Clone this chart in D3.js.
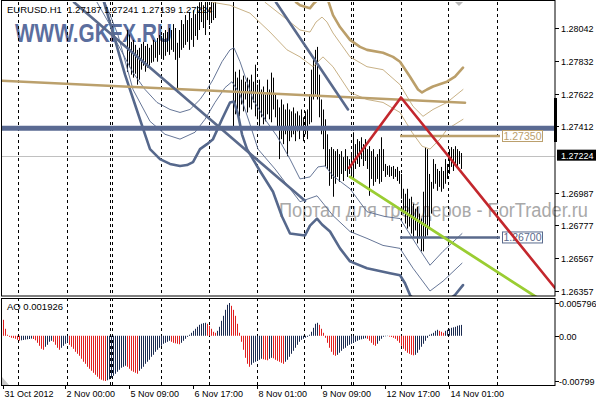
<!DOCTYPE html>
<html><head><meta charset="utf-8">
<script src="https://cdn.jsdelivr.net/npm/d3@7"></script>
<style>body{margin:0;background:#fff}svg{display:block}text{font-family:"Liberation Sans",Arial,sans-serif}</style>
</head><body><svg id="c" width="596" height="400"></svg>
<script>
// ---------------- DATA ----------------
const symbolName = "EURUSD.H1";
const headerOHLC = ["1.27187", "1.27241", "1.27139", "1.27224"];
const lastPrice = 1.27224;
const priceTicks = [1.28042, 1.27832, 1.27622, 1.27412, 1.26987, 1.26777, 1.26567, 1.26357];
const aoTicks = [0.005796, 0, -0.00799];
const aoTickLabels = ["0.005796", "0.00", "-0.00799"];
const aoLabel = "AO 0.001926";
const timeLabelIdx = [0, 31, 63, 95, 127, 159, 191, 223];
const timeLabelText = ["31 Oct 2012", "2 Nov 00:00", "5 Nov 09:00", "6 Nov 17:00", "8 Nov 01:00", "9 Nov 09:00", "12 Nov 17:00", "14 Nov 01:00"];
const separatorIdx = [7.5, 32, 53.5, 54.5, 79, 103, 127, 150.5, 174, 175, 199, 222.5, 247];

// hourly bars, first index = barStart
const barStart = 62;
const highs = [1.2803,1.2800,1.27953,1.27966,1.27934,1.27902,1.27915,1.2794,1.27953,1.27927,1.2794,1.27915,1.27934,1.27966,1.27953,1.27978,1.27997,1.27991,1.2801,1.28029,1.28016,1.28042,1.28029,1.28067,1.28042,1.27947,1.28029,1.28093,1.28067,1.28125,1.28093,1.28144,1.28106,1.28156,1.28131,1.28182,1.28207,1.28233,1.28188,1.28252,1.2822,1.28175,1.28245,1.28207,1.28258,1.28315,1.2834,1.2836,1.2838,1.2837,1.2835,1.2834,1.2833,1.28252,1.27762,1.27724,1.27775,1.27711,1.27737,1.27698,1.27724,1.27711,1.27743,1.27698,1.27807,1.27679,1.27711,1.27648,1.27667,1.27616,1.27711,1.27648,1.27756,1.27724,1.27616,1.27584,1.27533,1.27584,1.27552,1.2752,1.27559,1.2752,1.27508,1.27533,1.27495,1.27508,1.27482,1.2752,1.2747,1.27508,1.2752,1.27616,1.27775,1.27857,1.27902,1.27921,1.27743,1.27584,1.2752,1.27457,1.27361,1.27266,1.27279,1.27266,1.27253,1.27266,1.27234,1.27253,1.27215,1.27266,1.27221,1.27202,1.27234,1.27374,1.27298,1.2733,1.27317,1.27342,1.27298,1.2733,1.27266,1.27285,1.27253,1.27266,1.27215,1.27234,1.27266,1.27342,1.27266,1.27171,1.27158,1.27162,1.27152,1.27158,1.27139,1.27152,1.27126,1.27107,1.27012,1.2698,1.27012,1.26948,1.26961,1.26916,1.26884,1.26897,1.26853,1.26821,1.26993,1.27279,1.27266,1.27107,1.27056,1.27202,1.27171,1.27139,1.27126,1.27152,1.27126,1.27202,1.27171,1.27266,1.27279,1.27266,1.27285,1.27266,1.27253,1.27241];
const lows = [1.2776,1.2779,1.27743,1.27724,1.27749,1.27679,1.27711,1.27775,1.278,1.27762,1.27788,1.278,1.27819,1.27826,1.27851,1.27826,1.2787,1.27851,1.27838,1.27864,1.27889,1.2787,1.27902,1.27889,1.27838,1.27629,1.27851,1.27902,1.27915,1.27934,1.27953,1.27902,1.27966,1.27921,1.27991,1.27966,1.28029,1.2808,1.28042,1.27997,1.28093,1.28061,1.28074,1.28093,1.28106,1.28233,1.2826,1.2827,1.2828,1.2826,1.2825,1.2824,1.2824,1.27393,1.27489,1.2752,1.27476,1.27552,1.27508,1.27584,1.27501,1.27533,1.2752,1.27565,1.27476,1.27457,1.27412,1.2747,1.27425,1.27444,1.27489,1.27457,1.27438,1.2752,1.2747,1.27393,1.27202,1.2733,1.27298,1.27361,1.27221,1.27317,1.27342,1.27361,1.27317,1.2738,1.2733,1.27393,1.27317,1.27361,1.2733,1.27425,1.27438,1.27584,1.27616,1.27584,1.2747,1.27361,1.27266,1.27158,1.27139,1.27031,1.27075,1.26961,1.27044,1.27088,1.27056,1.27107,1.27062,1.27126,1.27088,1.27107,1.27088,1.27088,1.27139,1.27171,1.27152,1.27202,1.27158,1.2719,1.27139,1.26967,1.27075,1.27031,1.27056,1.27075,1.27044,1.27056,1.27126,1.27088,1.27101,1.27088,1.27094,1.27075,1.27088,1.27062,1.27044,1.26948,1.26853,1.26789,1.26757,1.2677,1.26725,1.26706,1.26745,1.26662,1.26694,1.26611,1.26611,1.26694,1.26713,1.26757,1.26853,1.27012,1.27044,1.26999,1.27024,1.26993,1.27012,1.27044,1.27075,1.27107,1.27152,1.27126,1.27171,1.27139,1.27171,1.27139];

// Awesome Oscillator, one value per bar (index 0..229)
const aoValues = [0.00283,0.00124,0.00018,-0.00018,-0.00035,-0.00041,-0.00053,-0.00071,-0.00088,-0.0008,-0.00074,-0.00067,-0.00062,-0.00057,-0.0005,-0.00057,-0.0008,-0.00124,-0.00177,-0.0023,-0.00247,-0.00194,-0.00159,-0.00106,-0.00088,-0.00106,-0.00159,-0.00212,-0.00247,-0.00212,-0.00177,-0.00141,-0.00124,-0.00159,-0.00194,-0.0023,-0.00283,-0.00318,-0.00353,-0.00406,-0.00459,-0.00495,-0.00548,-0.00583,-0.00618,-0.00654,-0.00689,-0.00724,-0.0076,-0.00777,-0.00792,-0.00799,-0.00786,-0.00769,-0.00742,-0.00707,-0.00671,-0.00636,-0.00601,-0.00565,-0.00548,-0.0053,-0.00548,-0.00583,-0.00618,-0.00636,-0.00654,-0.00671,-0.00618,-0.00583,-0.00548,-0.00495,-0.00459,-0.00424,-0.00371,-0.00336,-0.00283,-0.00247,-0.00212,-0.00177,-0.00141,-0.00124,-0.00106,-0.00088,-0.00106,-0.00124,-0.00133,-0.00141,-0.0015,-0.00124,-0.00088,-0.00053,-0.00018,0.00018,0.00053,0.00088,0.00124,0.00159,0.00194,0.00212,0.00224,0.0023,0.00212,0.00177,0.00124,0.00071,0.00053,0.00088,0.00159,0.00265,0.00353,0.00459,0.00548,0.005796,0.0053,0.00459,0.00353,0.00212,0.00053,-0.00106,-0.00247,-0.00389,-0.00495,-0.00548,-0.00512,-0.00477,-0.00459,-0.00442,-0.00424,-0.00406,-0.00415,-0.00424,-0.00433,-0.00406,-0.00389,-0.00398,-0.00424,-0.00442,-0.00459,-0.00477,-0.00495,-0.00459,-0.00424,-0.00371,-0.00318,-0.00265,-0.00212,-0.00159,-0.00106,-0.00071,-0.00053,-0.00035,-0.00018,0.00018,0.00071,0.00141,0.00212,0.0023,0.00194,0.00124,0.00053,-0.00035,-0.00124,-0.00212,-0.00283,-0.00336,-0.00353,-0.00336,-0.003,-0.00265,-0.0023,-0.00212,-0.00177,-0.00159,-0.00141,-0.00124,-0.00106,-0.00088,-0.00071,-0.00062,-0.00053,-0.00044,-0.00053,-0.00088,-0.00124,-0.00159,-0.00177,-0.00141,-0.00088,-0.00053,-0.00018,-0.00009,-0.00005,-0.00014,-0.00021,-0.00035,-0.00053,-0.00088,-0.00124,-0.00177,-0.0023,-0.00265,-0.003,-0.00318,-0.00336,-0.00345,-0.00336,-0.003,-0.00247,-0.00194,-0.00141,-0.00088,-0.00035,0.00018,0.00035,0.00053,0.00088,0.00106,0.00088,0.00071,0.00053,0.00088,0.00106,0.00124,0.00141,0.0015,0.00159,0.00177,0.00186,0.001926];

// band lines: [bar index, price]
const goldThick = [[146.5,1.28207],[148.5,1.28188],[153.5,1.28169],[155.5,1.28201],[160,1.28252],[162.5,1.2822],[165,1.28125],[168.5,1.28048],[173.5,1.27966],[178.5,1.27921],[182,1.27902],[190,1.27883],[195,1.27857],[198.5,1.27826],[203.5,1.2773],[207.5,1.27648],[209.5,1.27629],[212,1.27648],[215,1.27667],[222,1.27698],[226,1.2773],[230,1.27788]];
const goldThin1 = [[131,1.28207],[141,1.28106],[148.5,1.28029],[153.5,1.28016],[156.5,1.2808],[159.5,1.28112],[162,1.2808],[165,1.2801],[173.5,1.27857],[182,1.27794],[190,1.27775],[198.5,1.27679],[205,1.2754],[210,1.27476],[215,1.2752],[222,1.27565],[230,1.27648]];
const goldThin2 = [[104.5,1.28207],[113.5,1.28188],[123.5,1.28137],[133.5,1.28016],[142,1.27902],[148.5,1.27857],[155,1.27794],[157.5,1.27826],[160,1.27857],[165,1.27794],[173.5,1.27629],[182,1.27584],[190,1.27565],[198.5,1.27501],[204.5,1.27374],[209.5,1.27285],[213.5,1.27266],[218.5,1.2733],[222,1.27393],[230,1.27457]];
const slateThick = [[50.5,1.28207],[56,1.27966],[61,1.27743],[66,1.27552],[71,1.27361],[73.5,1.27266],[78.5,1.27202],[83.5,1.27171],[88.5,1.27158],[92,1.27164],[95,1.27183],[98.5,1.27266],[102,1.27298],[105,1.2733],[109.5,1.27457],[113.5,1.27565],[115.5,1.27571],[117.5,1.27489],[119.5,1.27361],[122,1.27266],[128.5,1.27126],[135,1.26993],[139.5,1.26834],[143.5,1.26725],[151,1.26713],[153.5,1.26776],[157,1.26821],[159.5,1.26783],[163.5,1.26738],[168.5,1.2663],[173.5,1.26547],[182,1.26503],[193.5,1.26471],[198.5,1.26458],[201,1.26407],[203.5,1.26331],[208.5,1.26261],[218.5,1.26261],[226,1.26331],[230,1.26395]];
const slateThin1 = [[47,1.28207],[53.5,1.28061],[57,1.27947],[61,1.27851],[65,1.27756],[71,1.27648],[77,1.27565],[83.5,1.2752],[88.5,1.27501],[93.5,1.2752],[98.5,1.27584],[102,1.27648],[105,1.27711],[109.5,1.27826],[113.5,1.27902],[115.5,1.27915],[118.5,1.27826],[125,1.27584],[131,1.27457],[137,1.27349],[143.5,1.27202],[148.5,1.27075],[153.5,1.27088],[157.5,1.27152],[161,1.27158],[165,1.27094],[173.5,1.27012],[182,1.26865],[191,1.26834],[198.5,1.26821],[207,1.26649],[213.5,1.26522],[220,1.26611],[229.5,1.26725]];
const slateThin2 = [[51,1.28207],[57.5,1.27997],[65,1.27648],[73.5,1.27444],[81,1.27361],[88.5,1.2733],[96,1.27374],[101,1.27457],[106,1.27565],[111,1.2766],[114.5,1.27698],[118.5,1.27616],[123.5,1.27425],[127.5,1.27266],[136,1.27139],[143.5,1.27012],[148.5,1.26929],[157,1.26967],[165,1.2684],[173.5,1.26738],[182,1.26694],[190,1.26649],[198.5,1.2663],[205,1.26503],[213.5,1.26357],[220,1.2642],[229.5,1.26535]];

// drawn objects: [bar index, price]
const goldTrend = [[-1.5,1.27705],[231,1.27563]];
const slateDiagA = [[35.5,1.28207],[151,1.26935]];
const slateDiagB = [[136.5,1.28207],[172.5,1.2752]];
const redLine = [[173,1.27145],[199,1.27597],[276,1.26376]];
const greenLine = [[173.5,1.27088],[268.5,1.26303]];
const thickHLine = 1.27400;
const hLevels = [1.27350, 1.26700];
const hLevelText = ["1.27350", "1.26700"];
const hLevelFrom = [198.5, 198.5];
const hLevelTo = [248.5, 248.5];

// ---------------- DRAW ----------------
const L = 2, R = 555, MT = 2, MB = 296, ST = 298, SB = 385;
const svg = d3.select("#c");
const x = d3.scaleLinear().domain([0, 229]).range([3, 461]);
const yP = d3.scaleLinear().domain([1.26357, 1.28042]).range([291, 28]);
const yA = d3.scaleLinear().domain([-0.00799, 0.005796]).range([381, 303]);

const defs = svg.append("defs");
defs.append("clipPath").attr("id", "mclip").append("rect").attr("x", L).attr("y", MT).attr("width", R - L).attr("height", MB - MT);
defs.append("clipPath").attr("id", "sclip").append("rect").attr("x", L).attr("y", ST).attr("width", R - L).attr("height", SB - ST);

// watermarks (behind everything)
svg.append("text").attr("x", 279).attr("y", 217).attr("font-size", 19.5)
  .attr("fill", "#a9a9a9").attr("textLength", 309).attr("lengthAdjust", "spacingAndGlyphs").text("Портал для трейдеров - ForTrader.ru");

const gm = svg.append("g").attr("clip-path", "url(#mclip)");
const gs = svg.append("g").attr("clip-path", "url(#sclip)");

gm.append("text").attr("x", 15).attr("y", 42).attr("font-size", 26.5).attr("font-weight", "bold")
  .attr("fill", "#5b6e9e").attr("textLength", 157).attr("lengthAdjust", "spacingAndGlyphs").text("WWW.GKFX.RU");

// separators
[[gm, MT, MB], [gs, ST, SB]].forEach(([g, a, b]) => {
  g.selectAll(null).data(separatorIdx).enter().append("line")
    .attr("x1", d => Math.round(x(d)) + 0.5).attr("x2", d => Math.round(x(d)) + 0.5)
    .attr("y1", a).attr("y2", b).attr("stroke", "#000").attr("stroke-dasharray", "3,3");
});

// current price line
gm.append("line").attr("x1", L).attr("x2", R).attr("y1", Math.round(yP(lastPrice)) + 0.5).attr("y2", Math.round(yP(lastPrice)) + 0.5)
  .attr("stroke", "#c0c0c0");

// bars
gm.selectAll(null).data(highs).enter().append("rect")
  .attr("x", (d, k) => Math.round(x(barStart + k)))
  .attr("width", 1)
  .attr("y", d => yP(d))
  .attr("height", (d, k) => Math.max(1, yP(lows[k]) - yP(d)))
  .attr("fill", "#000");

const line = d3.line().x(d => x(d[0])).y(d => yP(d[1]));
function path(data, color, w) {
  gm.append("path").attr("d", line(data)).attr("fill", "none").attr("stroke", color).attr("stroke-width", w)
    .attr("stroke-linejoin", "round").attr("stroke-linecap", "round");
}
// bands
path(goldThin1, "#c2a878", 0.9);
path(goldThin2, "#c2a878", 0.9);
path(goldThick, "#bb9f6a", 2.6);
path(slateThin1, "#55678b", 0.9);
path(slateThin2, "#55678b", 0.9);
path(slateThick, "#56688c", 2.6);

// objects
gm.append("line").attr("x1", L).attr("x2", R).attr("y1", yP(thickHLine)).attr("y2", yP(thickHLine))
  .attr("stroke", "#5a6a92").attr("stroke-width", 5);
path(goldTrend, "#bba06c", 2.6);
path(slateDiagA, "#5a6a8c", 2.6);
path(slateDiagB, "#5a6a8c", 2.6);
const hColors = ["#bba06c", "#5a6a8c"];
hLevels.forEach((p, k) => {
  gm.append("line").attr("x1", x(hLevelFrom[k])).attr("x2", x(hLevelTo[k])).attr("y1", yP(p)).attr("y2", yP(p))
    .attr("stroke", hColors[k]).attr("stroke-width", 2.5);
  gm.append("rect").attr("x", 502.5).attr("y", yP(p) - 5.5).attr("width", 40).attr("height", 11)
    .attr("fill", "#fff").attr("stroke", hColors[k]);
  gm.append("text").attr("x", 522.5).attr("y", yP(p) + 4).attr("text-anchor", "middle").attr("font-size", 10.5)
    .attr("fill", hColors[k]).text(hLevelText[k]);
});
path(redLine, "#c3272d", 2.6);
path(greenLine, "#9acd32", 2.8);

// shift marker
svg.append("polygon").attr("points", "455,2 463,2 459,6").attr("fill", "#b8b8b8");

// AO histogram
gs.selectAll(null).data(aoValues).enter().append("line")
  .attr("x1", (d, k) => Math.round(x(k)) + 0.5)
  .attr("x2", (d, k) => Math.round(x(k)) + 0.5)
  .attr("y1", yA(0))
  .attr("y2", d => yA(d))
  .attr("stroke-width", 1)
  .attr("stroke", (d, k) => (k > 0 && d > aoValues[k - 1]) ? "#1a2a50" : "#e01e1e");
gs.append("polygon").attr("points", "2,377 2,385 9,385").attr("fill", "#c8c8c8");

// frames
const fr = svg.append("g").attr("fill", "none").attr("stroke", "#000");
fr.append("rect").attr("x", 1.5).attr("y", 0.5).attr("width", R - 1.5).attr("height", MB - 0.5 + 0);
fr.append("rect").attr("x", 1.5).attr("y", ST + 0.5).attr("width", R - 1.5).attr("height", SB - ST);

// header
svg.append("text").attr("x", 7).attr("y", 13).attr("font-size", 9.5).attr("fill", "#000")
  .attr("xml:space", "preserve").text(symbolName + "  " + headerOHLC.join(" "));
svg.append("text").attr("x", 7).attr("y", 310).attr("font-size", 9.5).attr("fill", "#000").text(aoLabel);

// price axis
const pa = svg.append("g");
priceTicks.forEach(p => {
  const yy = Math.round(yP(p)) + 0.5;
  pa.append("line").attr("x1", R).attr("x2", R + 4).attr("y1", yy).attr("y2", yy).attr("stroke", "#000");
  pa.append("text").attr("x", 561).attr("y", yy + 3.5).attr("font-size", 9).text(d3.format(".5f")(p));
});
pa.append("rect").attr("x", 554).attr("y", 98).attr("width", 3).attr("height", 44).attr("fill", "#000");
const ly = yP(lastPrice);
pa.append("rect").attr("x", 557).attr("y", ly - 6).attr("width", 39).attr("height", 11).attr("fill", "#000");
pa.append("text").attr("x", 561).attr("y", ly + 3.5).attr("font-size", 9).attr("fill", "#fff").text(d3.format(".5f")(lastPrice));

// AO axis
aoTicks.forEach((v, k) => {
  const yy = Math.round(yA(v)) + 0.5;
  pa.append("line").attr("x1", R).attr("x2", R + 4).attr("y1", yy).attr("y2", yy).attr("stroke", "#000");
  pa.append("text").attr("x", 559).attr("y", yy + 3.5).attr("font-size", 9).text(aoTickLabels[k]);
});

// time axis
timeLabelIdx.forEach((i, k) => {
  const xx = Math.round(x(i)) + 0.5;
  pa.append("line").attr("x1", xx).attr("x2", xx).attr("y1", SB).attr("y2", SB + 4).attr("stroke", "#000");
  pa.append("text").attr("x", xx + 1).attr("y", 397).attr("font-size", 9).text(timeLabelText[k]);
});
</script></body></html>
